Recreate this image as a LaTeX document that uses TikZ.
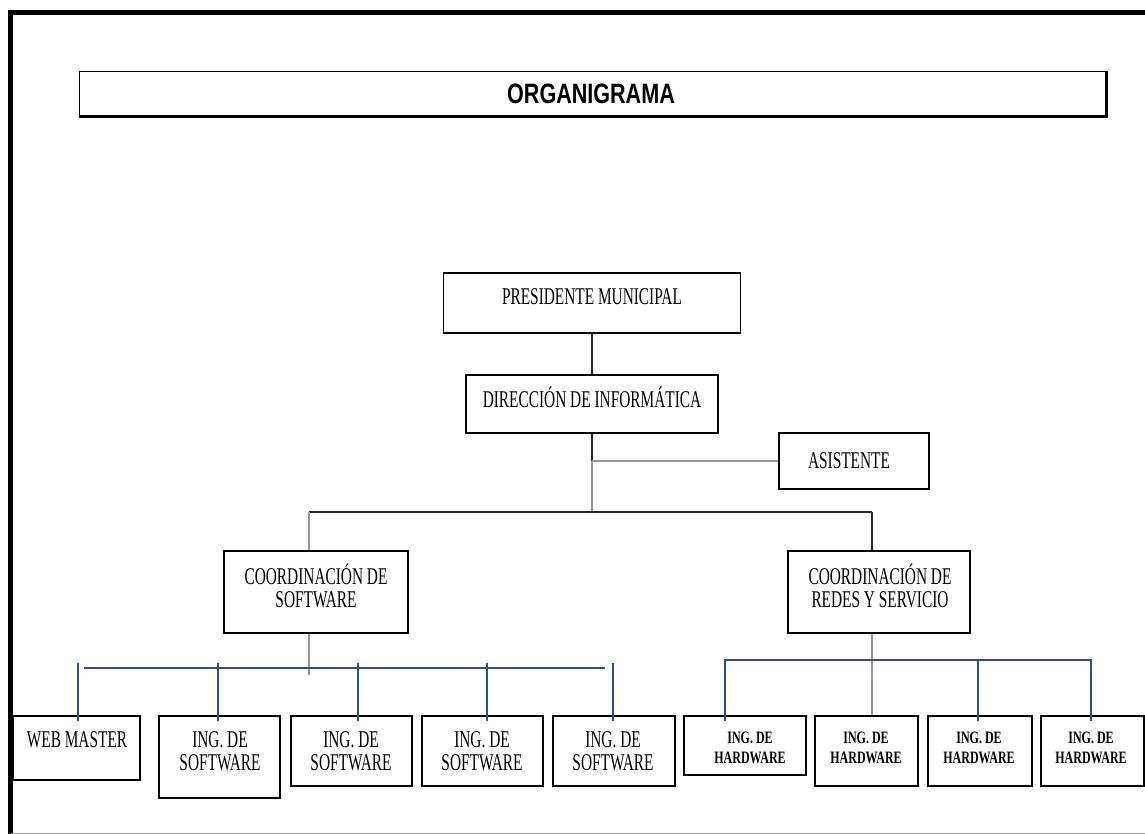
\documentclass[tikz,border=0pt]{standalone}
\usepackage{fontspec}
\setmainfont{Liberation Serif}
\newfontfamily\titlefont{Liberation Sans}
\usepackage{graphicx}
\usetikzlibrary{positioning}
\usepackage{color}
\definecolor{busblue}{RGB}{44,82,130}
\definecolor{linegray}{RGB}{150,150,150}
\newcommand{\nar}[2][0.64]{\scalebox{#1}[1]{#2}}

\begin{document}
\begin{tikzpicture}[x=1pt,y=-1pt]
\useasboundingbox (0,0) rectangle (1145,834);

\draw [line width=5pt] (10.5,834) -- (10.5,12.5) -- (1145,12.5);
\draw [linegray, line width=1pt] (10.5,833) -- (1145,833);

\node [draw, line width=1pt, inner sep=0pt, minimum width=1027pt, minimum height=44pt] (title) at (592.5,94) {};
\draw [line width=2.5pt] (title.north east) -- (title.south east) -- (title.south west);
\node [inner sep=0pt, font=\titlefont\bfseries\fontsize{28}{30}\selectfont] (titleT) at (591,94) {\nar[0.77]{ORGANIGRAMA}};

\begin{scope}[every node/.style={rectangle,draw,line width=1.2pt,inner sep=0pt}]
\node [minimum width=297pt, minimum height=60pt] (pres) at (592,303) {};
\node [minimum width=252pt, minimum height=58pt] (dir) at (592,404) {};
\node [minimum width=150pt, minimum height=56pt] (asis) at (854,461) {};
\node [minimum width=184pt, minimum height=82pt] (csoft) at (316,592) {};
\node [minimum width=182pt, minimum height=82pt] (credes) at (879,592) {};
\node [minimum width=127pt, minimum height=64pt] (web) at (76.5,748) {};
\node [minimum width=121pt, minimum height=82pt] (sw1) at (219.5,757) {};
\node [minimum width=121pt, minimum height=70pt] (sw2) at (351.5,751) {};
\node [minimum width=121pt, minimum height=70pt] (sw3) at (482.5,751) {};
\node [minimum width=122pt, minimum height=70pt] (sw4) at (614,751) {};
\node [minimum width=122pt, minimum height=59pt] (hw1) at (745,745.5) {};
\node [minimum width=103pt, minimum height=70pt] (hw2) at (866.5,751) {};
\node [minimum width=104pt, minimum height=70pt] (hw3) at (980,751) {};
\node [minimum width=103pt, minimum height=70pt] (hw4) at (1092.5,751) {};
\end{scope}

\begin{scope}[every node/.style={inner sep=0pt,align=center,font=\fontsize{24}{23.5}\selectfont}]
\node [anchor=base] (presT) at (592,304) {\nar{PRESIDENTE MUNICIPAL}};
\node [anchor=base] (dirT) at (592,407) {\nar{DIRECCIÓN DE INFORMÁTICA}};
\node [anchor=base] (asisT) at (849,468) {\nar{ASISTENTE}};
\node (csoftT) at (316,586) {\nar{COORDINACIÓN DE}\\\nar{SOFTWARE}};
\node (credesT) at (880,586) {\nar{COORDINACIÓN DE}\\\nar{REDES Y SERVICIO}};
\node [anchor=base] (webT) at (77,747) {\nar{WEB MASTER}};
\foreach \x/\n in {220/1,351/2,482/3,613/4}
  \node (sw\n T) at (\x,751) {\nar{ING. DE}\\\nar{SOFTWARE}};
\end{scope}

\begin{scope}[every node/.style={inner sep=0pt,align=center,font=\bfseries\fontsize{17.4}{20}\selectfont}]
\foreach \x/\n in {750/1,866/2,979/3,1091/4}
  \node (hw\n T) at (\x,747.5) {\nar[0.69]{ING. DE}\\\nar[0.69]{HARDWARE}};
\end{scope}

\begin{scope}[conn/.style={line width=1.2pt,black!85},
  gline/.style={line width=1.5pt,linegray},
  bline/.style={line width=1.5pt,busblue}]
\coordinate (asisJ) at (dir.south |- asis.west);
\coordinate (split) at (592,512);
\coordinate (barL) at (309,512);
\coordinate (barR) at (872,512);
\coordinate (sEnd) at (309,675);
\coordinate (busL) at (84,668);
\coordinate (busR) at (605,668);
\coordinate (hbL) at (725,660);
\coordinate (hbM) at (978,660);
\coordinate (hbR) at (1091,660);

\draw [conn] (pres.south) -- (dir.north);
\draw [conn] (dir.south) -- (asisJ);
\draw [gline] (asisJ) -- (split);
\draw [gline] (asisJ) -- (asis.west);
\draw [conn] (barL) -- (barR);
\draw [gline] (barL) -- (barL |- csoft.north);
\draw [conn] (barR) -- (barR |- credes.north);
\draw [gline] (barL |- csoft.south) -- (sEnd);
\draw [gline] (barR |- credes.south) -- (barR |- hw2.north);

\draw [bline] (busL) -- (busR);
\foreach \x/\n in {78/web,218/sw1,358/sw2,487/sw3,613/sw4}
  \draw [bline] (\x,663) -- ([yshift=-6pt]\x,0 |- \n.north);
\draw [bline] ([yshift=-6pt]hbL |- hw1.north) -- (hbL) -- (hbR) -- ([yshift=-6pt]hbR |- hw4.north);
\draw [bline] (hbM) -- ([yshift=-6pt]hbM |- hw3.north);
\end{scope}
\end{tikzpicture}
\end{document}
